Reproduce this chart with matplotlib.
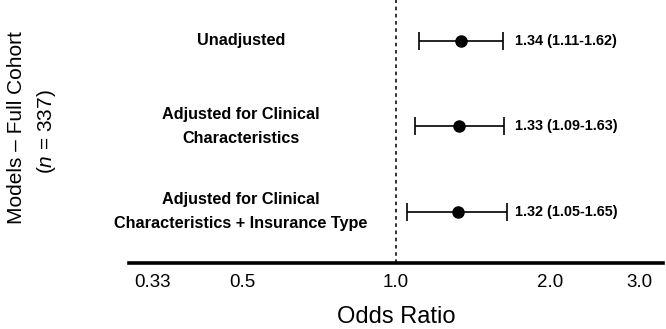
import matplotlib
matplotlib.use("Agg")
import matplotlib.pyplot as plt
import matplotlib.transforms as mtransforms

plt.rcParams['font.family'] = ['Liberation Sans', 'DejaVu Sans']
plt.rcParams['mathtext.fontset'] = 'custom'
plt.rcParams['mathtext.rm'] = 'Liberation Sans'
plt.rcParams['mathtext.it'] = 'Liberation Sans:italic'

models = ["Unadjusted",
          "Adjusted for Clinical\nCharacteristics",
          "Adjusted for Clinical\nCharacteristics + Insurance Type"]
odds = [1.34, 1.33, 1.32]
lower = [1.11, 1.09, 1.05]
upper = [1.62, 1.63, 1.65]
tick_vals = [1/3, 0.5, 1.0, 2.0, 3.0]
tick_labels = ["0.33", "0.5", "1.0", "2.0", "3.0"]
ypos = [3, 2, 1]

fig = plt.figure(figsize=(6.66, 3.29), dpi=100)
ax = fig.add_axes([129/666, 1 - 263/329, (663-129)/666, 263/329])

ax.set_xscale('log')
ax.set_xlim(0.3, 1/0.3)
ax.set_ylim(0.4, 3.48)

ax.axvline(1.0, color='#222222', lw=1.3, ls=(0, (2, 2)), zorder=1)

xerr = [[o - l for o, l in zip(odds, lower)], [u - o for o, u in zip(odds, upper)]]
ax.errorbar(odds, ypos, xerr=xerr, fmt='o', color='black', ms=8,
            elinewidth=1.2, capsize=6.5, capthick=1.2, zorder=3)

tr = mtransforms.blended_transform_factory(ax.transAxes, ax.transData)
for y, m, o, l, u in zip(ypos, models, odds, lower, upper):
    ax.text(0.2097, y, m, transform=tr, ha='center', va='center',
            fontsize=11.7, fontweight='bold', linespacing=1.75)
    ax.text(0.7228, y, f"{o:.2f} ({l:.2f}-{u:.2f})", transform=tr,
            ha='left', va='center', fontsize=10.4, fontweight='bold')

ax.set_xticks(tick_vals)
ax.set_xticklabels(tick_labels)
ax.xaxis.set_minor_locator(matplotlib.ticker.NullLocator())
ax.tick_params(axis='x', length=0, pad=8, labelsize=13.5)
ax.set_yticks([])
for s in ['top', 'left', 'right']:
    ax.spines[s].set_visible(False)
ax.spines['bottom'].set_linewidth(2.6)
ax.set_xlabel("Odds Ratio", fontsize=17, labelpad=10.5)

fig.text(17/666, 1 - 128/329, "Models – Full Cohort", rotation=90,
         ha='center', va='center', fontsize=15)
fig.text(46/666, 1 - 132/329, r"($\mathit{n}$ = 337)", rotation=90,
         ha='center', va='center', fontsize=15)

fig.savefig("out.png", dpi=100)
